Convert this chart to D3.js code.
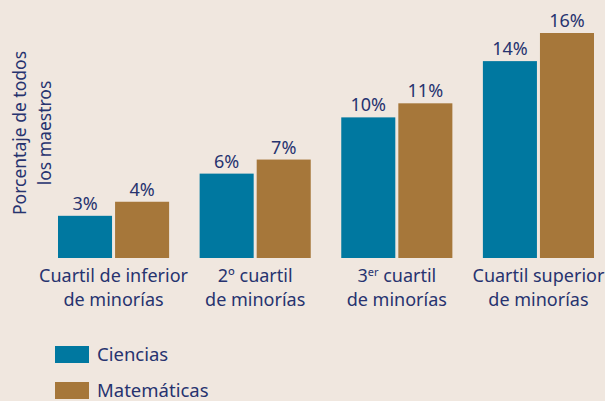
<!DOCTYPE html>
<html>
<head>
<meta charset="utf-8">
<script src="https://cdn.jsdelivr.net/npm/d3@7"></script>
<style>
  body { margin: 0; background: #f0e7df; }
  svg { display: block; }
  text { font-family: "Noto Sans", sans-serif; fill: #27336f; }
</style>
</head>
<body>
<svg></svg>
<script>
// data
var categories = [
    ["Cuartil de inferior", "de minorías"],
    ["2º cuartil", "de minorías"],
    ["3er cuartil", "de minorías"],
    ["Cuartil superior", "de minorías"]
];
var seriesNames = ["Ciencias", "Matemáticas"];
var ciencias = [3, 6, 10, 14];
var matematicas = [4, 7, 11, 16];
var colors = ["#0078a0", "#a6773a"];

var width = 605, height = 401;
var svg = d3.select("svg").attr("width", width).attr("height", height);

svg.append("rect").attr("width", width).attr("height", height).attr("fill", "#f0e7df");

//scales
var x0 = d3.scaleBand()
    .domain(d3.range(categories.length))
    .range([58, 594])
    .paddingInner(0.2155)
    .paddingOuter(0);

var x1 = d3.scaleBand()
    .domain(seriesNames)
    .range([0, x0.bandwidth()])
    .paddingInner(0.053);

var y = d3.scaleLinear().domain([0, 16]).range([258, 33]);

var color = d3.scaleOrdinal().domain(seriesNames).range(colors);

var rows = categories.map(function(c, i) {
    return [
        { s: "Ciencias", v: ciencias[i] },
        { s: "Matemáticas", v: matematicas[i] }
    ];
});

var group = svg.append("g").selectAll("g")
    .data(rows)
    .enter().append("g")
    .attr("transform", function(d, i) { return "translate(" + x0(i) + ",0)"; });

group.selectAll("rect")
    .data(function(d) { return d; })
    .enter().append("rect")
    .attr("x", function(d) { return x1(d.s); })
    .attr("y", function(d) { return y(d.v); })
    .attr("width", x1.bandwidth())
    .attr("height", function(d) { return y(0) - y(d.v); })
    .attr("fill", function(d) { return color(d.s); });

group.selectAll("text.val")
    .data(function(d) { return d; })
    .enter().append("text")
    .attr("class", "val")
    .attr("x", function(d) { return x1(d.s) + x1.bandwidth() / 2; })
    .attr("y", function(d) { return y(d.v) - 6; })
    .attr("text-anchor", "middle")
    .style("font-size", "18px")
    .text(function(d) { return d.v + "%"; });

// category labels
var cat = svg.append("g").selectAll("text")
    .data(categories)
    .enter().append("text")
    .attr("x", function(d, i) { return x0(i) + x0.bandwidth() / 2; })
    .attr("y", 282)
    .attr("text-anchor", "middle")
    .style("font-size", "18px");

cat.each(function(d, i) {
    var t = d3.select(this);
    var first = t.append("tspan").attr("x", x0(i) + x0.bandwidth() / 2);
    if (i == 2) {
        first.append("tspan").text("3");
        first.append("tspan").attr("dy", -6).style("font-size", "11px").text("er");
        first.append("tspan").attr("dy", 6).text(" cuartil");
    } else {
        first.text(d[0]);
    }
    t.append("tspan")
        .attr("x", x0(i) + x0.bandwidth() / 2)
        .attr("y", 306)
        .text(d[1]);
});

// y axis title
var yt = svg.append("text")
    .attr("transform", "translate(0,133) rotate(-90)")
    .attr("text-anchor", "middle")
    .style("font-size", "17.5px");
yt.append("tspan").attr("x", 0).attr("y", 26).text("Porcentaje de todos");
yt.append("tspan").attr("x", 0).attr("y", 51).text("los maestros");

// legend
var legend = svg.selectAll(".legend")
    .data(seriesNames)
    .enter().append("g")
    .attr("class", "legend")
    .attr("transform", function(d, i) { return "translate(55," + (346 + i * 36) + ")"; });

legend.append("rect")
    .attr("width", 34)
    .attr("height", 17)
    .attr("fill", color);

legend.append("text")
    .attr("x", 42)
    .attr("y", 15)
    .style("font-size", "18.5px")
    .text(function(d) { return d; });
</script>
</body>
</html>
